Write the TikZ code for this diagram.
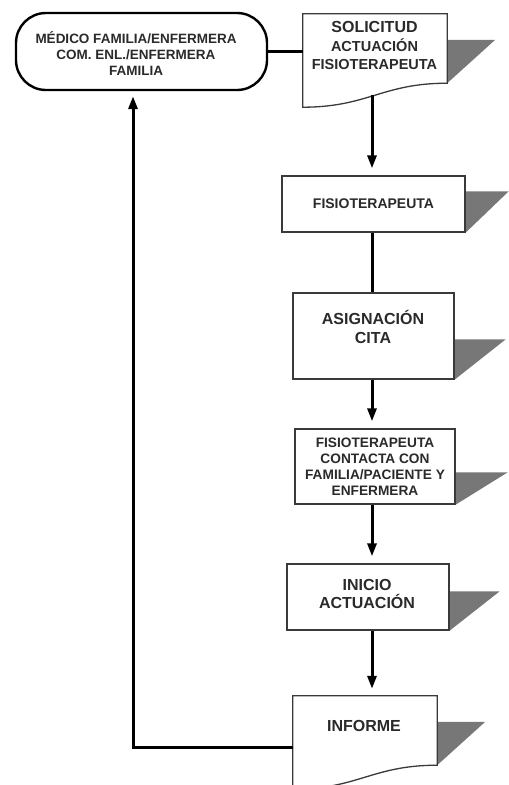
\documentclass[tikz,border=0pt]{standalone}
\usepackage{fontspec}
\setmainfont{Liberation Sans}
\usetikzlibrary{arrows.meta,backgrounds,calc}
\definecolor{shadowgray}{HTML}{777777}
\definecolor{boxline}{HTML}{3A3A3A}
\definecolor{txtc}{HTML}{2A2A2A}
\begin{document}
\begin{tikzpicture}[x=1pt,y=-1pt,
  box/.style={draw=boxline, line width=1.3pt, fill=white, inner sep=0pt},
  frame/.style={inner sep=0pt, draw=none},
  doc/.style={draw=boxline, line width=1.3pt, fill=white},
  term/.style={draw=black, line width=2.4pt, fill=white, rounded corners=30pt, inner sep=0pt},
  txt/.style={text=txtc, align=center, font=\bfseries\fontsize{14}{16}\selectfont, inner sep=0pt},
  big/.style={font=\bfseries\fontsize{16}{19}\selectfont},
  conn/.style={line width=3pt, draw=black},
  arr/.style={conn, -{Triangle[width=9pt,length=13pt]}, shorten >=7pt},
  shade/.style={fill=shadowgray, draw=none}
]
\useasboundingbox (0,0) rectangle (509,785);
\clip (0,0) rectangle (509,785);

% terminator
\node[term, minimum width=251pt, minimum height=77pt] (med) at (141.5,51.5) {};
\node[txt, font=\bfseries\fontsize{13.5}{16}\selectfont] (medt) at (136,54) {MÉDICO FAMILIA/ENFERMERA\\COM. ENL./ENFERMERA\\FAMILIA};

% solicitud (document)
\node[frame, minimum width=144pt, minimum height=69pt] (sol) at (375,48.5) {};
\draw[doc] ($(sol.south west)+(0,24)$) -- (sol.north west) -- (sol.north east) -- (sol.south east)
  .. controls +(-65,0) and +(65,0) .. ($(sol.south west)+(0,24)$) -- cycle;
\node[txt, font=\bfseries\fontsize{14.5}{18.5}\selectfont] (solt) at (374.5,45.5) {{\fontsize{16}{18.5}\selectfont SOLICITUD}\\ACTUACIÓN\\FISIOTERAPEUTA};

% fisioterapeuta
\node[box, txt, minimum width=183pt, minimum height=56pt] (fis) at (373.5,204) {FISIOTERAPEUTA};

% asignacion
\node[box, minimum width=161pt, minimum height=86pt] (asig) at (373.5,336) {};
\node[txt, big] (asigt) at (373,326.5) {ASIGNACIÓN\\CITA};

% contacta
\node[box, txt, font=\bfseries\fontsize{13.7}{16}\selectfont, minimum width=160pt, minimum height=75pt] (fc) at (375,466.5) {FISIOTERAPEUTA\\CONTACTA CON\\FAMILIA/PACIENTE Y\\ENFERMERA};

% inicio
\node[box, minimum width=162pt, minimum height=66pt] (ini) at (368,597) {};
\node[txt, big, font=\bfseries\fontsize{16}{18}\selectfont] (init) at (367,594) {INICIO\\ACTUACIÓN};

% informe (document)
\node[frame, minimum width=144pt, minimum height=69pt] (inf) at (365,730.5) {};
\draw[doc] ($(inf.south west)+(0,24)$) -- (inf.north west) -- (inf.north east) -- (inf.south east)
  .. controls +(-65,0) and +(65,0) .. ($(inf.south west)+(0,24)$) -- cycle;
\node[txt, big] (inft) at (364,726) {INFORME};

% shadows
\begin{scope}[on background layer]
\fill[shade] ($(sol.north east)+(0,26)$) -- +(48,0) -- (sol.south east) -- cycle;
\fill[shade] ($(fis.north east)+(0,16)$) -- +(43,0) -- (fis.south east) -- cycle;
\fill[shade] ($(asig.north east)+(0,47)$) -- +(51,0) -- (asig.south east) -- cycle;
\fill[shade] ($(fc.north east)+(0,44)$) -- +(52,0) -- (fc.south east) -- cycle;
\fill[shade] ($(ini.north east)+(0,28)$) -- +(50,0) -- (ini.south east) -- cycle;
\fill[shade] ($(inf.north east)+(0,26)$) -- +(48,0) -- (inf.south east) -- cycle;
\end{scope}

% connectors
\coordinate (col) at (372,0);
\coordinate (fb) at (133,747);
\draw[conn] (med.east) -- (med.east -| sol.west);
\draw[arr, shorten <=12pt] (sol.south -| col) -- (fis.north -| col);
\draw[conn] (fis.south -| col) -- (asig.north -| col);
\draw[arr] (asig.south -| col) -- (fc.north -| col);
\draw[arr] (fc.south -| col) -- (ini.north -| col);
\draw[arr] (ini.south -| col) -- (inf.north -| col);
\draw[arr, shorten >=5pt] (inf.west |- fb) -- (fb) -- (med.south -| fb);
\end{tikzpicture}
\end{document}
